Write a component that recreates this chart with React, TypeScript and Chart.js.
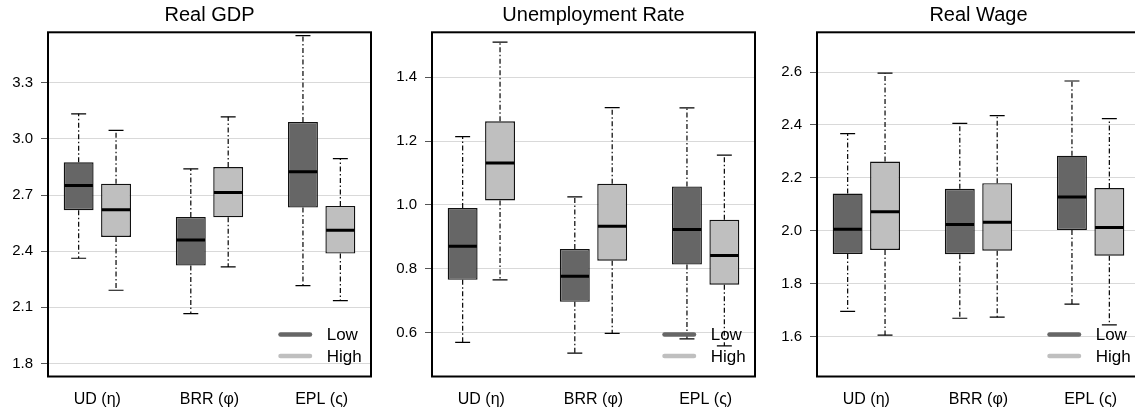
import React, { useEffect, useRef } from 'react';
import { Chart, registerables } from 'chart.js';

Chart.register(...registerables);

const FONT = '"Liberation Sans", Arial, Helvetica, sans-serif';

const CATEGORIES = ['UD (η)', 'BRR (φ)', 'EPL (ς)'];
const SERIES = ['Low', 'High'];
const SERIES_COLORS = ['#666666', '#bfbfbf'];

// Five-number summaries per category: [min, q1, median, q3, max]
const GDP_LOW = [
  [2.362, 2.619, 2.751, 2.875, 3.134],
  [2.066, 2.323, 2.46, 2.583, 2.84],
  [2.216, 2.633, 2.825, 3.091, 3.552],
];
const GDP_HIGH = [
  [2.191, 2.476, 2.621, 2.761, 3.046],
  [2.316, 2.581, 2.713, 2.85, 3.118],
  [2.136, 2.387, 2.512, 2.642, 2.895],
];
const UNEMP_LOW = [
  [0.569, 0.765, 0.87, 0.99, 1.214],
  [0.535, 0.696, 0.776, 0.862, 1.025],
  [0.58, 0.813, 0.923, 1.058, 1.304],
];
const UNEMP_HIGH = [
  [0.765, 1.014, 1.131, 1.262, 1.51],
  [0.597, 0.825, 0.933, 1.066, 1.305],
  [0.558, 0.75, 0.841, 0.953, 1.156],
];
const WAGE_LOW = [
  [1.696, 1.913, 2.006, 2.141, 2.367],
  [1.67, 1.912, 2.024, 2.159, 2.406],
  [1.723, 2.003, 2.128, 2.284, 2.566],
];
const WAGE_HIGH = [
  [1.606, 1.928, 2.072, 2.262, 2.596],
  [1.674, 1.925, 2.033, 2.18, 2.435],
  [1.645, 1.906, 2.013, 2.162, 2.424],
];

const GDP_TICKS = [1.8, 2.1, 2.4, 2.7, 3.0, 3.3];
const UNEMP_TICKS = [0.6, 0.8, 1.0, 1.2, 1.4];
const WAGE_TICKS = [1.6, 1.8, 2.0, 2.2, 2.4, 2.6];

const GDP_RANGE = [1.73, 3.57];
const UNEMP_RANGE = [0.462, 1.541];
const WAGE_RANGE = [1.45, 2.75];

// Whiskers, caps, medians, the plot frame and the in-plot legend.
const boxParts = {
  id: 'boxParts',
  afterDatasetsDraw(chart: any) {
    const { ctx } = chart;
    const yScale = chart.scales.y;
    const py = (v: number) => yScale.getPixelForValue(v);
    const seg = (x1: number, y1: number, x2: number, y2: number) => {
      ctx.beginPath();
      ctx.moveTo(x1, y1);
      ctx.lineTo(x2, y2);
      ctx.stroke();
    };
    ctx.save();
    ctx.beginPath();
    ctx.rect(chart.chartArea.left, chart.chartArea.top, chart.chartArea.width, chart.chartArea.height);
    ctx.clip();
    chart.data.datasets.forEach((ds: any, k: number) => {
      const meta = chart.getDatasetMeta(k);
      meta.data.forEach((bar: any, i: number) => {
        const [lo, q1, med, q3, hi] = ds.stats[i];
        const { x, width } = bar.getProps(['x', 'width'], true);
        ctx.strokeStyle = '#000';
        ctx.lineWidth = 1.2;
        ctx.setLineDash([5, 2.5, 1.5, 2.5]);
        seg(x, py(q3), x, py(hi));
        seg(x, py(q1), x, py(lo));
        ctx.setLineDash([]);
        const cap = width / 4;
        seg(x - cap, py(hi), x + cap, py(hi));
        seg(x - cap, py(lo), x + cap, py(lo));
        ctx.lineWidth = 3;
        seg(x - width / 2 + 0.7, py(med), x + width / 2 - 0.7, py(med));
      });
    });
    ctx.restore();
  },
  afterDraw(chart: any) {
    const { ctx, chartArea } = chart;
    ctx.save();
    ctx.strokeStyle = '#000';
    ctx.lineWidth = 2;
    ctx.strokeRect(chartArea.left, chartArea.top, chartArea.width, chartArea.height);

    ctx.font = `17px ${FONT}`;
    ctx.textBaseline = 'middle';
    ctx.textAlign = 'left';
    chart.data.datasets.forEach((ds: any, k: number) => {
      const yy = chartArea.bottom - 42 + k * 21.4;
      ctx.strokeStyle = ds.backgroundColor;
      ctx.lineWidth = 4.5;
      ctx.lineCap = 'round';
      ctx.beginPath();
      ctx.moveTo(chartArea.right - 90.5, yy);
      ctx.lineTo(chartArea.right - 61, yy);
      ctx.stroke();
      ctx.fillStyle = '#000';
      ctx.fillText(ds.label, chartArea.right - 44.3, yy + 1);
    });
    ctx.restore();
  },
};

type PanelProps = {
  title: string;
  low: number[][];
  high: number[][];
  ticks: number[];
  range: number[];
  left: number;
};

function Panel({ title, low, high, ticks, range, left }: PanelProps) {
  const ref = useRef<HTMLCanvasElement | null>(null);

  useEffect(() => {
    if (!ref.current) return;
    const chart = new Chart(ref.current, {
      type: 'bar',
      data: {
        datasets: [low, high].map((stats, k) => ({
          label: SERIES[k],
          stats,
          data: stats.map((s, i) => ({ x: i, y: [s[1], s[3]] })),
          backgroundColor: SERIES_COLORS[k],
          borderColor: '#111',
          borderWidth: 1.4,
          borderSkipped: false,
          categoryPercentage: 2 / 3,
          barPercentage: 0.8,
        })) as any,
      },
      options: {
        responsive: false,
        maintainAspectRatio: false,
        animation: false,
        events: [],
        layout: { padding: { left: 0, right: 9, top: 0, bottom: 0 } },
        plugins: {
          legend: { display: false },
          tooltip: { enabled: false },
          title: {
            display: true,
            text: title,
            fullSize: false,
            color: '#000',
            font: { family: FONT, size: 20, weight: 'normal', lineHeight: 1.2 },
            padding: { top: 3, bottom: 5.3 },
          },
        },
        scales: {
          x: {
            type: 'linear',
            min: -0.44,
            max: 2.44,
            offset: false,
            grid: { display: false, drawTicks: false, offset: false },
            border: { display: false },
            afterBuildTicks: (s: any) => {
              s.ticks = CATEGORIES.map((_, i) => ({ value: i }));
            },
            afterFit: (s: any) => {
              s.height = 37.5;
            },
            ticks: {
              autoSkip: false,
              maxRotation: 0,
              padding: 13,
              color: '#000',
              font: { family: FONT, size: 16 },
              callback: (v: any) => CATEGORIES[Math.round(Number(v))] ?? '',
            },
          },
          y: {
            type: 'linear',
            min: range[0],
            max: range[1],
            grid: { color: '#d9d9d9', lineWidth: 1, tickColor: '#555', tickLength: 7, drawTicks: true },
            border: { display: false },
            afterBuildTicks: (s: any) => {
              s.ticks = ticks.map((v) => ({ value: v }));
            },
            afterFit: (s: any) => {
              s.width = 48;
            },
            ticks: {
              padding: 8,
              color: '#000',
              font: { family: FONT, size: 15 },
              callback: (v: any) => Number(v).toFixed(1),
            },
          },
        },
      } as any,
      plugins: [boxParts],
    });
    return () => chart.destroy();
  }, [title, low, high, ticks, range]);

  return (
    <canvas
      ref={ref}
      width={380}
      height={414}
      style={{ position: 'absolute', left, top: 0, width: 380, height: 414 }}
    />
  );
}

export default function App() {
  return (
    <div
      style={{
        position: 'absolute',
        left: 0,
        top: 0,
        width: 1135,
        height: 414,
        overflow: 'hidden',
        background: '#fff',
      }}
    >
      <Panel title="Real GDP" low={GDP_LOW} high={GDP_HIGH} ticks={GDP_TICKS} range={GDP_RANGE} left={0} />
      <Panel
        title="Unemployment Rate"
        low={UNEMP_LOW}
        high={UNEMP_HIGH}
        ticks={UNEMP_TICKS}
        range={UNEMP_RANGE}
        left={384}
      />
      <Panel title="Real Wage" low={WAGE_LOW} high={WAGE_HIGH} ticks={WAGE_TICKS} range={WAGE_RANGE} left={769} />
    </div>
  );
}
